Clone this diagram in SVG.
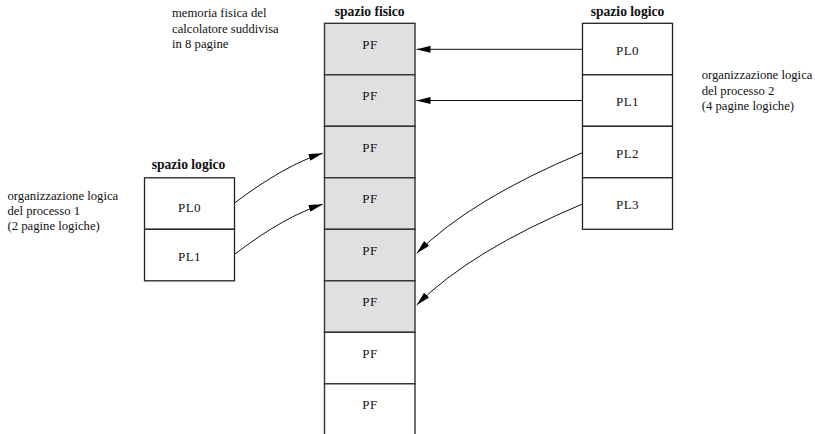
<svg xmlns="http://www.w3.org/2000/svg" width="815" height="434" viewBox="0 0 815 434" font-family="'Liberation Serif', 'DejaVu Serif', serif">
<style>
text{fill:#111}
.note{font-size:12.7px}
.title{font-size:13.6px;font-weight:bold;text-anchor:middle}
.lbl{font-size:13px;text-anchor:middle;letter-spacing:0.4px}
.pfs{fill:#e0e0e0;stroke:#333;stroke-width:1.4}
.pfw{fill:#fff;stroke:#333;stroke-width:1.4}
.pl{fill:#fff;stroke:#222;stroke-width:1.3}
.conn path{fill:none;stroke:#111;stroke-width:1;marker-end:url(#ah)}
</style>
<defs>
<marker id="ah" markerUnits="userSpaceOnUse" viewBox="0 0 14 7" refX="14" refY="3.5" markerWidth="14" markerHeight="7" orient="auto">
<path d="M0,0 L14,3.5 L0,7 z" fill="#000"/>
</marker>
</defs>
<rect width="815" height="434" fill="#fff"/>

<g id="annotations">
<text class="note" x="172" y="17.3">memoria fisica del</text>
<text class="note" x="172" y="32.7">calcolatore suddivisa</text>
<text class="note" x="172" y="48">in 8 pagine</text>
<text class="note" x="7.5" y="199.5">organizzazione logica</text>
<text class="note" x="7.5" y="215">del processo 1</text>
<text class="note" x="7.5" y="230.3">(2 pagine logiche)</text>
<text class="note" x="701.7" y="79">organizzazione logica</text>
<text class="note" x="701.7" y="94.5">del processo 2</text>
<text class="note" x="701.7" y="110">(4 pagine logiche)</text>
<text class="title" x="369.7" y="16">spazio fisico</text>
<text class="title" x="627.5" y="16">spazio logico</text>
<text class="title" x="188.5" y="169.3">spazio logico</text>
</g>

<g id="pf0"><rect class="pfs" x="324.5" y="23.3" width="90.5" height="51.5"/><text class="lbl" x="370" y="48.8">PF</text></g>
<g id="pf1"><rect class="pfs" x="324.5" y="74.8" width="90.5" height="51.5"/><text class="lbl" x="370" y="100.3">PF</text></g>
<g id="pf2"><rect class="pfs" x="324.5" y="126.3" width="90.5" height="51.5"/><text class="lbl" x="370" y="151.8">PF</text></g>
<g id="pf3"><rect class="pfs" x="324.5" y="177.8" width="90.5" height="51.5"/><text class="lbl" x="370" y="203.3">PF</text></g>
<g id="pf4"><rect class="pfs" x="324.5" y="229.3" width="90.5" height="51.5"/><text class="lbl" x="370" y="254.8">PF</text></g>
<g id="pf5"><rect class="pfs" x="324.5" y="280.8" width="90.5" height="51.5"/><text class="lbl" x="370" y="306.3">PF</text></g>
<g id="pf6"><rect class="pfw" x="324.5" y="332.3" width="90.5" height="51.5"/><text class="lbl" x="370" y="357.8">PF</text></g>
<g id="pf7"><rect class="pfw" x="324.5" y="383.8" width="90.5" height="51.5"/><text class="lbl" x="370" y="409">PF</text></g>

<g id="p2pl0"><rect class="pl" x="582.5" y="23.3" width="90" height="51.5"/><text class="lbl" x="627.5" y="54.5">PL0</text></g>
<g id="p2pl1"><rect class="pl" x="582.5" y="74.8" width="90" height="51.5"/><text class="lbl" x="627.5" y="106">PL1</text></g>
<g id="p2pl2"><rect class="pl" x="582.5" y="126.3" width="90" height="51.5"/><text class="lbl" x="627.5" y="157.8">PL2</text></g>
<g id="p2pl3"><rect class="pl" x="582.5" y="177.8" width="90" height="51.5"/><text class="lbl" x="627.5" y="208.8">PL3</text></g>

<g id="p1pl0"><rect class="pl" x="144.5" y="177.8" width="90" height="51.5"/><text class="lbl" x="189.5" y="212.3">PL0</text></g>
<g id="p1pl1"><rect class="pl" x="144.5" y="229.3" width="90" height="51.5"/><text class="lbl" x="189.5" y="261.3">PL1</text></g>

<g id="connectors" class="conn">
<path d="M582.5,49.3 L416.5,49.3"/>
<path d="M582.5,100.5 L416.5,100.5"/>
<path d="M582.5,152.7 Q470.5,199.5 416.7,253.3"/>
<path d="M582.5,204 Q470.5,251 416.7,305"/>
<path d="M234.5,203 Q285,165 322.7,153.3"/>
<path d="M234.5,254.3 Q285,216 322.7,204.3"/>
</g>
</svg>
